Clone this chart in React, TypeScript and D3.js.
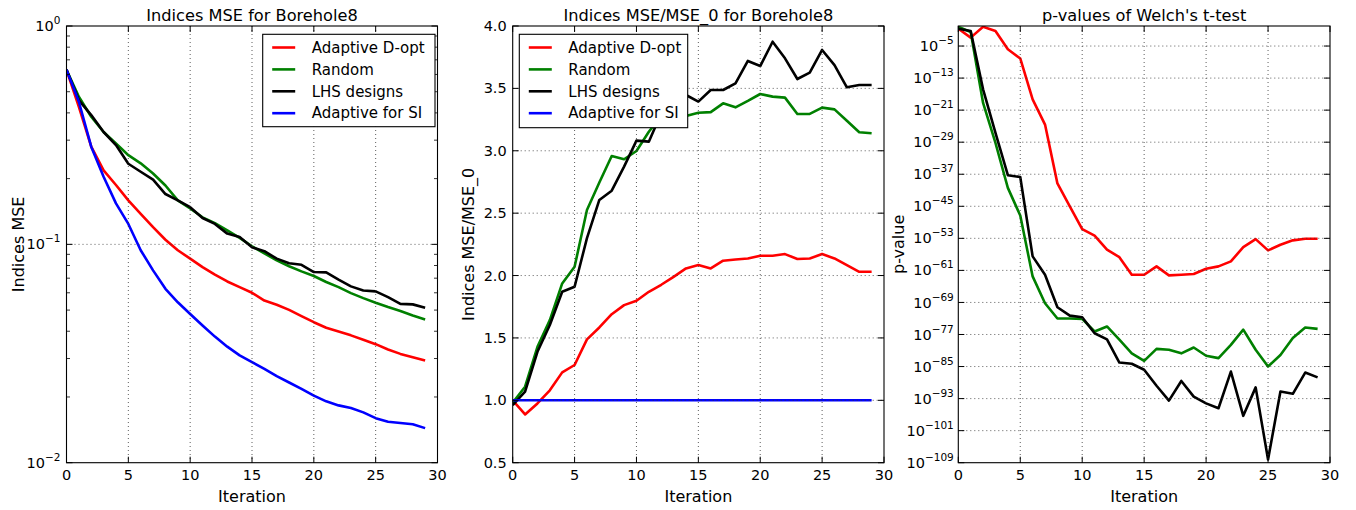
import React from 'react';
import * as d3 from 'd3';

// ---------- data ----------
const iterations = [0, 1, 2, 3, 4, 5, 6, 7, 8, 9, 10, 11, 12, 13, 14, 15, 16, 17, 18, 19, 20, 21, 22, 23, 24, 25, 26, 27, 28, 29];
const seriesNames = ['Adaptive D-opt', 'Random', 'LHS designs', 'Adaptive for SI'];
const seriesColors = ['#ff0000', '#008000', '#000000', '#0000ff'];

// Panel 1: Indices MSE (log scale)
const mseAdaptiveDopt = [0.63, 0.426, 0.28, 0.218, 0.187, 0.159, 0.138, 0.12, 0.105, 0.094, 0.086, 0.0787, 0.0726, 0.0676, 0.0637, 0.06, 0.0553, 0.0529, 0.0501, 0.0469, 0.044, 0.0415, 0.0399, 0.0383, 0.0366, 0.0349, 0.033, 0.0315, 0.0304, 0.0294];
const mseRandom = [0.63, 0.474, 0.384, 0.327, 0.29, 0.256, 0.235, 0.211, 0.186, 0.159, 0.146, 0.133, 0.125, 0.116, 0.107, 0.098, 0.091, 0.0845, 0.0794, 0.0752, 0.0716, 0.0672, 0.0637, 0.0598, 0.0567, 0.054, 0.0516, 0.0495, 0.0472, 0.0453];
const mseLHS = [0.63, 0.458, 0.391, 0.327, 0.285, 0.234, 0.215, 0.198, 0.17, 0.159, 0.148, 0.132, 0.124, 0.112, 0.108, 0.097, 0.093, 0.086, 0.082, 0.0806, 0.0747, 0.0744, 0.0689, 0.0642, 0.0615, 0.0609, 0.0573, 0.0534, 0.0531, 0.0513];
const mseAdaptiveSI = [0.63, 0.45, 0.28, 0.204, 0.154, 0.124, 0.094, 0.076, 0.0626, 0.0543, 0.048, 0.0425, 0.0378, 0.034, 0.031, 0.0289, 0.0269, 0.0249, 0.0233, 0.0218, 0.0203, 0.0191, 0.0183, 0.0178, 0.017, 0.016, 0.0154, 0.0152, 0.015, 0.0144];

// Panel 2: Indices MSE / MSE_0
const ratioAdaptiveDopt = [1.0, 0.887, 0.975, 1.08, 1.224, 1.283, 1.488, 1.584, 1.69, 1.763, 1.798, 1.87, 1.926, 1.99, 2.057, 2.084, 2.057, 2.119, 2.129, 2.137, 2.159, 2.159, 2.172, 2.132, 2.137, 2.172, 2.137, 2.084, 2.03, 2.03];
const ratioRandom = [0.98, 1.109, 1.429, 1.643, 1.937, 2.07, 2.526, 2.745, 2.958, 2.932, 2.998, 3.153, 3.28, 3.26, 3.279, 3.305, 3.31, 3.38, 3.348, 3.4, 3.455, 3.434, 3.426, 3.295, 3.295, 3.346, 3.332, 3.241, 3.148, 3.14];
const ratioLHS = [0.962, 1.069, 1.389, 1.603, 1.87, 1.91, 2.3, 2.606, 2.68, 2.873, 3.081, 3.073, 3.3, 3.45, 3.447, 3.394, 3.487, 3.487, 3.54, 3.72, 3.679, 3.874, 3.741, 3.575, 3.626, 3.808, 3.687, 3.509, 3.527, 3.527];
const ratioAdaptiveSI = [1, 1, 1, 1, 1, 1, 1, 1, 1, 1, 1, 1, 1, 1, 1, 1, 1, 1, 1, 1, 1, 1, 1, 1, 1, 1, 1, 1, 1, 1];

// Panel 3: p-values (log10 of p)
const pLog10AdaptiveDopt = [-0.67, -2.9, -0.2, -1.25, -5.8, -8.1, -18.3, -24.6, -39.3, -45, -50.7, -52.3, -55.8, -57.7, -62.1, -62.1, -60, -62.25, -62.1, -61.9, -60.6, -60, -58.75, -55.2, -53.2, -56, -54.6, -53.5, -53.1, -53.1];
const pLog10Random = [-0.2, -1.5, -19.2, -29.2, -40.4, -47.3, -62.5, -69.2, -73, -73, -73.1, -76.25, -75, -78.3, -81.7, -83.6, -80.6, -80.8, -81.7, -80.25, -82.3, -82.9, -79.6, -75.8, -80.8, -85, -82.1, -77.9, -75.25, -75.6];
const pLog10LHS = [-0.7, -1.25, -15.8, -26.7, -37.25, -37.7, -57.5, -62.1, -70.2, -72.3, -72.7, -76.7, -78.2, -84, -84.3, -85.8, -89.8, -93.5, -88.6, -92.5, -94.2, -95.4, -86.25, -97.3, -90.2, -108.2, -91.25, -91.8, -86.5, -87.7];

// ticks
const xTicks = [0, 5, 10, 15, 20, 25, 30];
const mseTickExponents = [0, -1, -2];
const ratioTicks = [0.5, 1.0, 1.5, 2.0, 2.5, 3.0, 3.5, 4.0];
const pTickExponents = [-5, -13, -21, -29, -37, -45, -53, -61, -69, -77, -85, -93, -101, -109];

const titles = ['Indices MSE for Borehole8', 'Indices MSE/MSE_0 for Borehole8', "p-values of Welch's t-test"];
const yLabels = ['Indices MSE', 'Indices MSE/MSE_0', 'p-value'];
const xLabel = 'Iteration';

// ---------- layout ----------
const W = 1356;
const H = 510;
const TOP = 26;
const BOTTOM = 462.7;
const FONT = 'DejaVu Sans, Liberation Sans, sans-serif';
const TICK_FS = 14.5;
const SUP_FS = 10.5;
const LABEL_FS = 16;
const TITLE_FS = 16.2;
const LEGEND_FS = 15;
const panels = [
  { left: 66.5, right: 437.5 },
  { left: 512.7, right: 884 },
  { left: 958.3, right: 1330 },
];

const GRID = { stroke: '#333', strokeWidth: 0.8, strokeDasharray: '1,3' };

function Sup({ x, y, exp, anchor }: { x: number; y: number; exp: number; anchor: string }) {
  const e = exp < 0 ? '\u2212' + Math.abs(exp) : String(exp);
  return (
    <text x={x} y={y} fontSize={TICK_FS} fontFamily={FONT} textAnchor={anchor} fill="#000" dy="0.35em">
      10<tspan dy={-7} fontSize={SUP_FS}>{e}</tspan>
    </text>
  );
}

function Panel({ idx, yScale, yTicks, yMinor, yTickLabel, lines, labelX, legend, gridY, yLabelGap }: any) {
  const { left, right } = panels[idx];
  const x = d3.scaleLinear().domain([0, 30]).range([left, right]);
  const clipId = `clip${idx}`;
  const line = d3
    .line<number>()
    .x((_, i) => x(iterations[i]))
    .y((d) => yScale(d));
  const MAJ = 6;
  const MIN = 3.5;
  return (
    <g>
      <defs>
        <clipPath id={clipId}>
          <rect x={left} y={TOP} width={right - left} height={BOTTOM - TOP} />
        </clipPath>
      </defs>
      <rect x={left} y={TOP} width={right - left} height={BOTTOM - TOP} fill="#fff" />
      <g clipPath={`url(#${clipId})`}>
        {lines.map((l: any, i: number) => (
          <path key={i} d={line(l.values) || ''} fill="none" stroke={l.color} strokeWidth={2.6} strokeLinejoin="round" />
        ))}
      </g>
      {/* grid */}
      {xTicks.slice(1, -1).map((t) => (
        <line key={'gx' + t} x1={x(t)} x2={x(t)} y1={TOP} y2={BOTTOM} {...GRID} />
      ))}
      {gridY.map((v: number, i: number) => (
        <line key={'gy' + i} x1={left} x2={right} y1={yScale(v)} y2={yScale(v)} {...GRID} />
      ))}
      {/* ticks */}
      {xTicks.map((t) => (
        <g key={'tx' + t}>
          <line x1={x(t)} x2={x(t)} y1={BOTTOM} y2={BOTTOM - MAJ} stroke="#000" strokeWidth={1} />
          <line x1={x(t)} x2={x(t)} y1={TOP} y2={TOP + MAJ} stroke="#000" strokeWidth={1} />
          <text x={x(t)} y={BOTTOM + 17.5} fontSize={TICK_FS} fontFamily={FONT} textAnchor="middle">
            {t}
          </text>
        </g>
      ))}
      {yTicks.map((v: number, i: number) => (
        <g key={'ty' + i}>
          <line x1={left} x2={left + MAJ} y1={yScale(v)} y2={yScale(v)} stroke="#000" strokeWidth={1} />
          <line x1={right} x2={right - MAJ} y1={yScale(v)} y2={yScale(v)} stroke="#000" strokeWidth={1} />
          {yTickLabel(v, left - yLabelGap, yScale(v))}
        </g>
      ))}
      {yMinor.map((v: number, i: number) => (
        <g key={'tm' + i}>
          <line x1={left} x2={left + MIN} y1={yScale(v)} y2={yScale(v)} stroke="#000" strokeWidth={0.8} />
          <line x1={right} x2={right - MIN} y1={yScale(v)} y2={yScale(v)} stroke="#000" strokeWidth={0.8} />
        </g>
      ))}
      <rect x={left} y={TOP} width={right - left} height={BOTTOM - TOP} fill="none" stroke="#000" strokeWidth={1.1} />
      {/* titles and labels */}
      <text x={(left + right) / 2} y={20.5} fontSize={TITLE_FS} fontFamily={FONT} textAnchor="middle">
        {titles[idx]}
      </text>
      <text x={(left + right) / 2} y={502} fontSize={LABEL_FS} fontFamily={FONT} textAnchor="middle">
        {xLabel}
      </text>
      <text
        transform={`translate(${labelX},${(TOP + BOTTOM) / 2}) rotate(-90)`}
        fontSize={LABEL_FS}
        fontFamily={FONT}
        textAnchor="middle"
        dy="0.35em"
      >
        {yLabels[idx]}
      </text>
      {legend && (
        <g>
          <rect x={legend.x} y={legend.y} width={legend.w} height={legend.h} fill="#fff" stroke="#000" strokeWidth={1.1} />
          {seriesNames.map((n, i) => {
            const cy = legend.y + 13.2 + i * 21.9;
            return (
              <g key={n}>
                <line x1={legend.x + 9.5} x2={legend.x + 32.5} y1={cy} y2={cy} stroke={seriesColors[i]} strokeWidth={2.6} />
                <text x={legend.x + 49} y={cy} dy="0.35em" fontSize={LEGEND_FS} fontFamily={FONT}>
                  {n}
                </text>
              </g>
            );
          })}
        </g>
      )}
    </g>
  );
}

export default function App() {
  // Panel 1 scale
  const y1 = d3.scaleLog().domain([0.01, 1]).range([BOTTOM, TOP]);
  const mseMajor = mseTickExponents.map((e) => Math.pow(10, e));
  const mseMinor: number[] = [];
  [0.01, 0.1].forEach((base) => {
    [2, 3, 4, 5, 6, 7, 8, 9].forEach((m) => mseMinor.push(base * m));
  });

  // Panel 2 scale
  const y2 = d3.scaleLinear().domain([0.5, 4.0]).range([BOTTOM, TOP]);

  // Panel 3 scale
  const y3 = d3.scaleLog().domain([1e-109, 1]).range([BOTTOM, TOP]);
  const pMajor = pTickExponents.map((e) => Math.pow(10, e));

  const lines1 = [mseAdaptiveDopt, mseRandom, mseLHS, mseAdaptiveSI].map((v, i) => ({ values: v, color: seriesColors[i] }));
  const lines2 = [ratioAdaptiveDopt, ratioRandom, ratioLHS, ratioAdaptiveSI].map((v, i) => ({ values: v, color: seriesColors[i] }));
  const lines3 = [pLog10AdaptiveDopt, pLog10Random, pLog10LHS].map((v, i) => ({
    values: v.map((e) => Math.pow(10, e)),
    color: seriesColors[i],
  }));

  return (
    <div style={{ position: 'absolute', left: 0, top: 0 }}>
      <svg width={W} height={H} style={{ display: 'block', background: '#fff' }}>
        <rect width={W} height={H} fill="#fff" />
        <Panel
          idx={0}
          yScale={y1}
          yTicks={mseMajor}
          yMinor={mseMinor}
          gridY={[0.1]}
          yLabelGap={6}
          yTickLabel={(v: number, lx: number, ly: number) => (
            <Sup x={lx} y={ly} exp={Math.round(Math.log10(v))} anchor="end" />
          )}
          lines={lines1}
          labelX={18}
          legend={{ x: 262.7, y: 34.3, w: 172.3, h: 92.4 }}
        />
        <Panel
          idx={1}
          yScale={y2}
          yTicks={ratioTicks}
          yMinor={[]}
          gridY={ratioTicks.slice(1, -1)}
          yLabelGap={6}
          yTickLabel={(v: number, lx: number, ly: number) => (
            <text x={lx} y={ly} dy="0.35em" fontSize={TICK_FS} fontFamily={FONT} textAnchor="end">
              {d3.format('.1f')(v)}
            </text>
          )}
          lines={lines2}
          labelX={468}
          legend={{ x: 519.3, y: 34.3, w: 168.4, h: 93.4 }}
        />
        <Panel
          idx={2}
          yScale={y3}
          yTicks={pMajor}
          yMinor={[]}
          gridY={pMajor.slice(0, -1)}
          yLabelGap={4.5}
          yTickLabel={(v: number, lx: number, ly: number) => (
            <Sup x={lx} y={ly} exp={Math.round(Math.log10(v))} anchor="end" />
          )}
          lines={lines3}
          labelX={898}
          legend={null}
        />
      </svg>
    </div>
  );
}
